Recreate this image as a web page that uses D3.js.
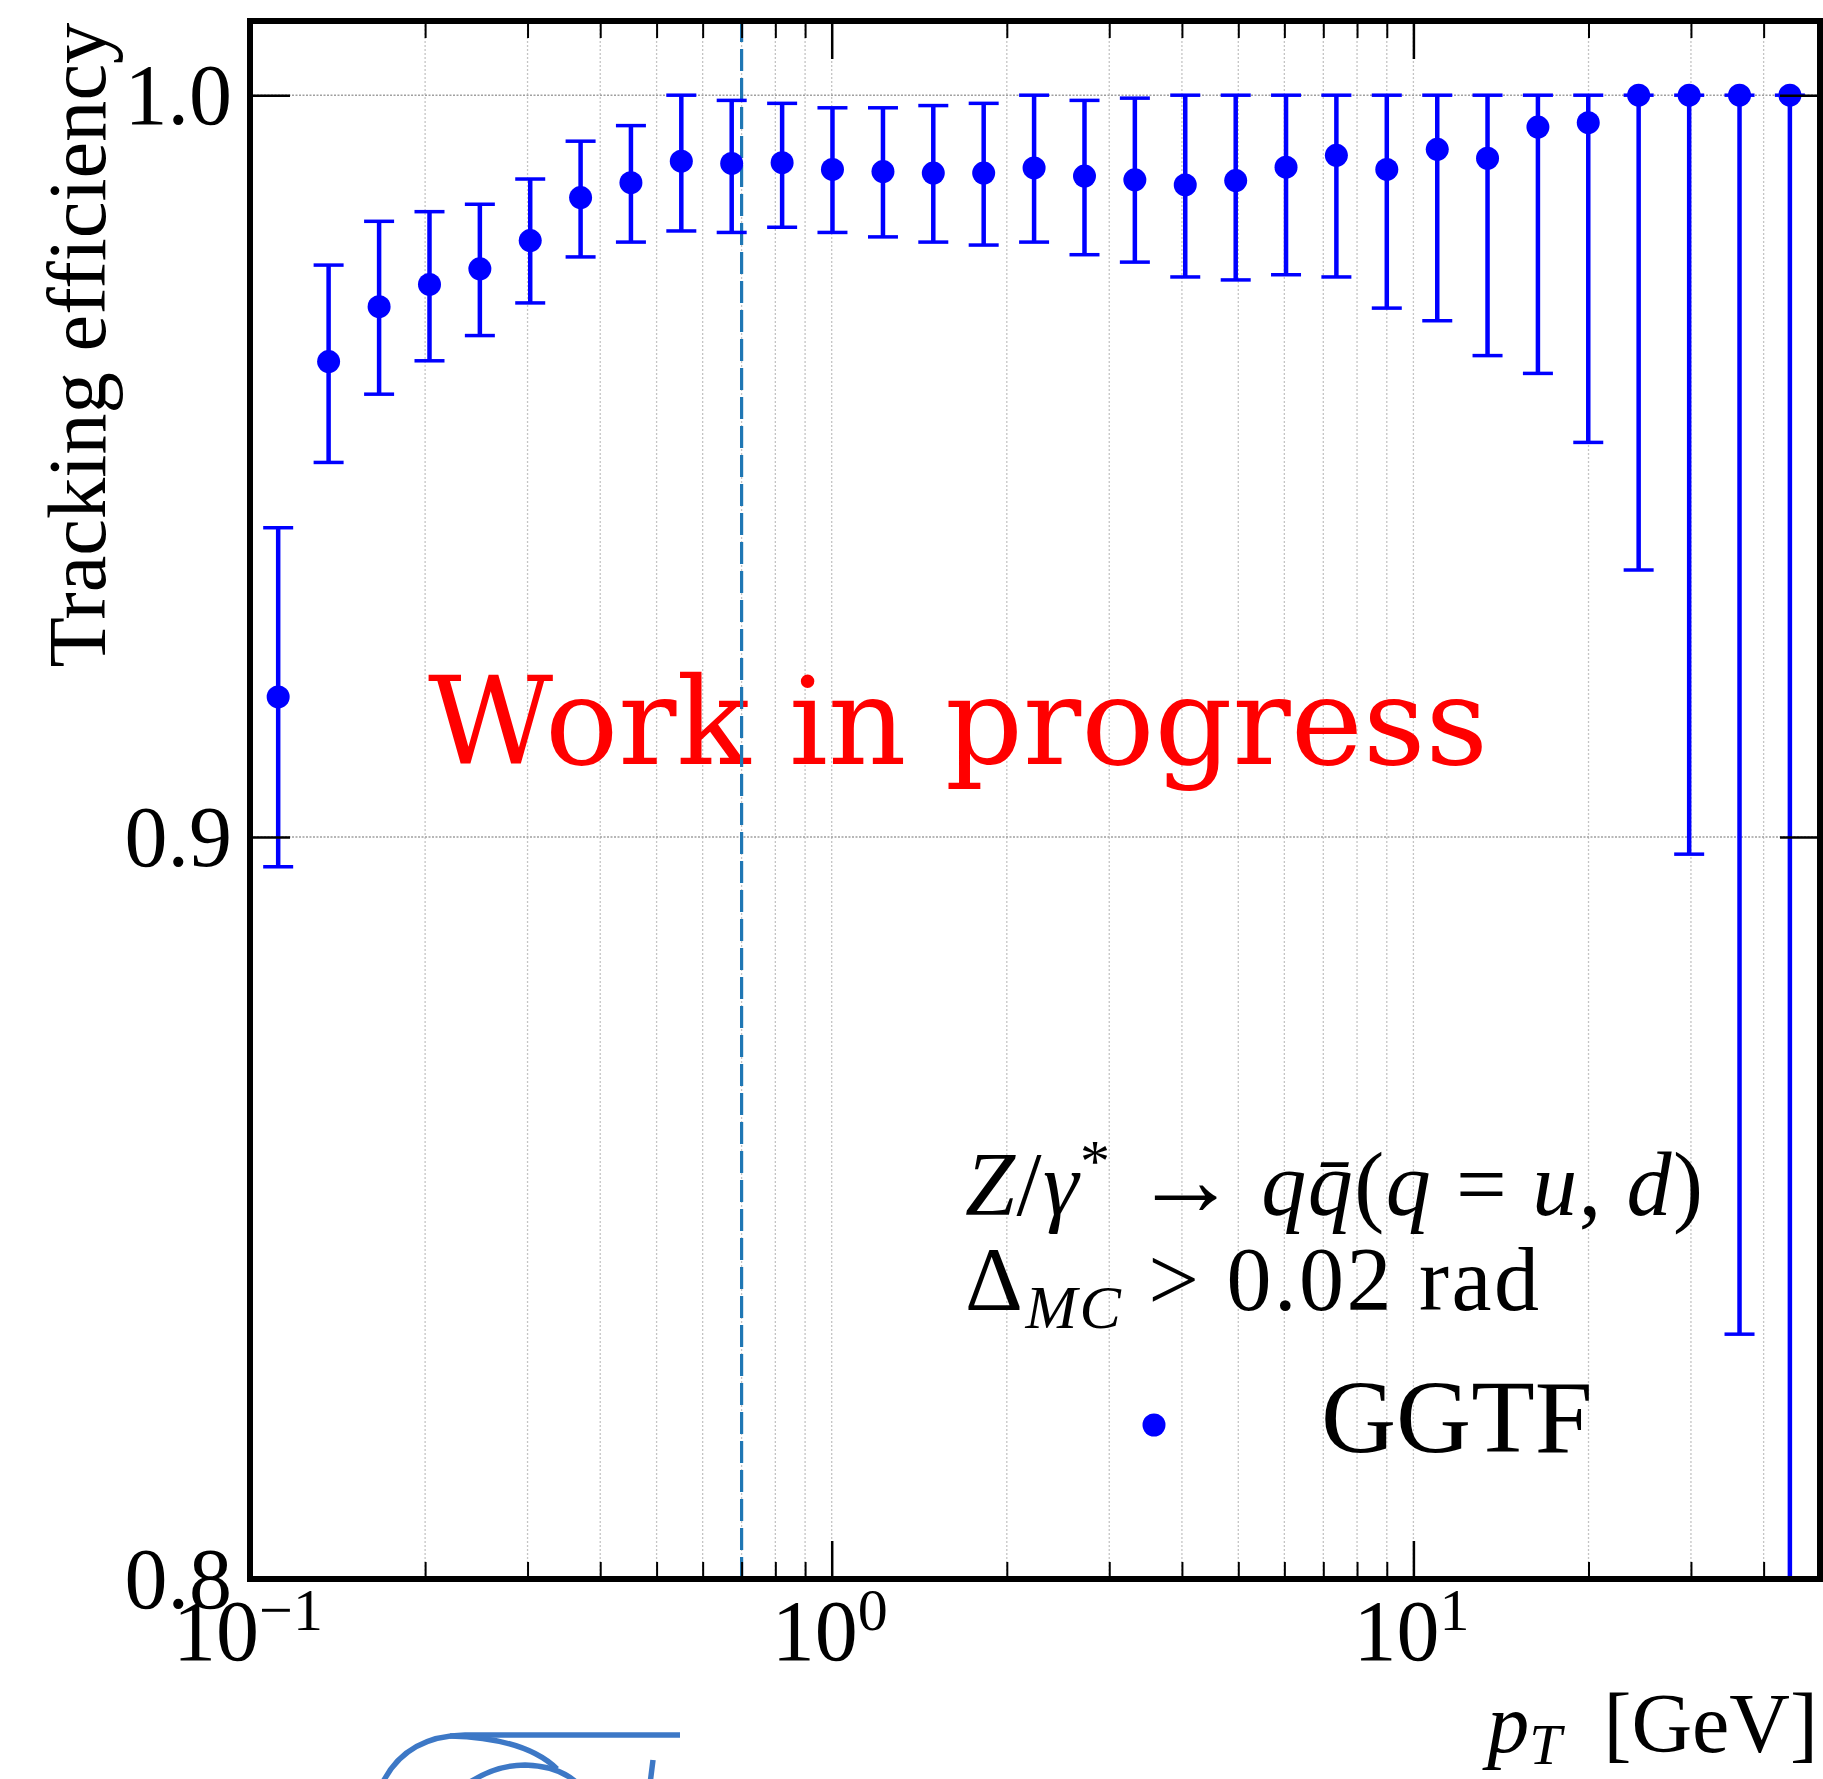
<!DOCTYPE html>
<html>
<head>
<meta charset="utf-8">
<script src="https://cdn.jsdelivr.net/npm/d3@7"></script>
<style>
  body { margin: 0; background: #fff; }
  svg { display: block; }
  text { font-family: "Liberation Serif", "DejaVu Serif", serif; fill: #000; }
</style>
</head>
<body>
<div id="chart"></div>
<script>
// bin centres in pT (GeV)
const pt = [0.1118, 0.1365, 0.1667, 0.2035, 0.2484, 0.3032, 0.3701, 0.4517, 0.5514, 0.6731,
  0.8218, 1.003, 1.225, 1.495, 1.825, 2.228, 2.720, 3.320, 4.053, 4.949,
  6.040, 7.372, 9.000, 10.99, 13.41, 16.37, 19.98, 24.39, 29.79, 36.36, 44.38];
// tracking efficiency per bin
const eff = [0.9189, 0.9641, 0.9715, 0.9745, 0.9766, 0.9804, 0.9862, 0.9882, 0.9911, 0.9908,
  0.9909, 0.9900, 0.9897, 0.9895, 0.9895, 0.9902, 0.9891, 0.9886, 0.9879, 0.9885,
  0.9903, 0.9919, 0.9900, 0.9927, 0.9915, 0.9957, 0.9963, 1.0, 1.0, 1.0, 1.0];
// error bar bounds
const effLow = [0.8960, 0.9505, 0.9597, 0.9642, 0.9676, 0.9720, 0.9782, 0.9802, 0.9817, 0.9815,
  0.9822, 0.9815, 0.9809, 0.9802, 0.9798, 0.9802, 0.9785, 0.9775, 0.9755, 0.9751,
  0.9758, 0.9755, 0.9713, 0.9696, 0.9649, 0.9625, 0.9532, 0.9360, 0.8977, 0.8330, 0.70];
const effHigh = [0.9417, 0.9771, 0.9830, 0.9843, 0.9853, 0.9887, 0.9938, 0.9959, 1.0, 0.9993,
  0.9989, 0.9983, 0.9983, 0.9986, 0.9989, 1.0, 0.9993, 0.9996, 1.0, 1.0,
  1.0, 1.0, 1.0, 1.0, 1.0, 1.0, 1.0, 1.0, 1.0, 1.0, 1.0];

const xMajor = [0.1, 1, 10];
const xExponents = ["\u22121", "0", "1"];
const xMinor = [0.2, 0.3, 0.4, 0.5, 0.6, 0.7, 0.8, 0.9, 2, 3, 4, 5, 6, 7, 8, 9, 20, 30, 40];
const yMajor = [0.8, 0.9, 1.0];
const yLabels = ["0.8", "0.9", "1.0"];
const cutLine = 0.7;

const W = 1823, H = 1779;
const margin = {top: 21, right: 3, bottom: 200, left: 250};
const x0 = margin.left, x1 = W - margin.right;
const y0 = H - margin.bottom, y1 = margin.top;

const svg = d3.select("#chart").append("svg")
  .attr("width", W).attr("height", H);

const x = d3.scaleLog().domain([0.1, 50]).range([x0, x1]);
const y = d3.scaleLinear().domain([0.8, 1.01]).range([y0, y1]);

svg.append("clipPath").attr("id", "plot-clip")
  .append("rect").attr("x", x0).attr("y", y1).attr("width", x1 - x0).attr("height", y0 - y1);

// grid
const grid = svg.append("g");
grid.selectAll(".xg").data(xMinor.concat(xMajor.slice(1))).enter().append("line")
  .attr("x1", d => x(d)).attr("x2", d => x(d))
  .attr("y1", y0).attr("y2", y1)
  .attr("stroke", "#c4c4c4").attr("stroke-width", 1.3).attr("stroke-dasharray", "2,2");
grid.selectAll(".yg").data(yMajor.slice(1)).enter().append("line")
  .attr("x1", x0).attr("x2", x1)
  .attr("y1", d => y(d)).attr("y2", d => y(d))
  .attr("stroke", "#a0a0a0").attr("stroke-width", 1.5).attr("stroke-dasharray", "2,1.5");

// "Work in progress"
const wip = svg.append("text")
  .attr("x", 428).attr("y", 764)
  .style("font-family", "'DejaVu Serif', serif")
  .style("font-size", "130px")
  .style("fill", "#ff0000")
  .text("Work in progress");
const wipLen = wip.node().getComputedTextLength();
wip.style("font-size", (130 * 1060 / wipLen) + "px");

// pT cut line
svg.append("line")
  .attr("x1", x(cutLine)).attr("x2", x(cutLine))
  .attr("y1", y0).attr("y2", y1)
  .attr("stroke", "#1f77b4").attr("stroke-width", 3.2)
  .attr("stroke-dasharray", "22,7");

// error bars and points
const pts = pt.map((d, i) => ({pt: d, eff: eff[i], lo: effLow[i], hi: effHigh[i]}));
const marks = svg.append("g").attr("clip-path", "url(#plot-clip)");
const blue = "#0000ff";
marks.selectAll(".bar").data(pts).enter().append("line")
  .attr("x1", d => x(d.pt)).attr("x2", d => x(d.pt))
  .attr("y1", d => y(d.lo)).attr("y2", d => y(d.hi))
  .attr("stroke", blue).attr("stroke-width", 4.5);
marks.selectAll(".capLo").data(pts).enter().append("line")
  .attr("x1", d => x(d.pt) - 15).attr("x2", d => x(d.pt) + 15)
  .attr("y1", d => y(d.lo)).attr("y2", d => y(d.lo))
  .attr("stroke", blue).attr("stroke-width", 3.5);
marks.selectAll(".capHi").data(pts).enter().append("line")
  .attr("x1", d => x(d.pt) - 15).attr("x2", d => x(d.pt) + 15)
  .attr("y1", d => y(d.hi)).attr("y2", d => y(d.hi))
  .attr("stroke", blue).attr("stroke-width", 3.5);
marks.selectAll(".dot").data(pts).enter().append("circle")
  .attr("cx", d => x(d.pt)).attr("cy", d => y(d.eff))
  .attr("r", 11.5).attr("fill", blue);

// ticks (inward, on all four sides)
const tickStyle = (g, w) => {
  g.select(".domain").remove();
  g.selectAll(".tick line").attr("stroke", "#000").attr("stroke-width", w);
  g.selectAll(".tick text").remove();
};
svg.append("g").attr("transform", `translate(0,${y0})`)
  .call(d3.axisBottom(x).tickValues(xMajor).tickSize(-38).tickFormat(""))
  .call(g => tickStyle(g, 2.5));
svg.append("g").attr("transform", `translate(0,${y0})`)
  .call(d3.axisBottom(x).tickValues(xMinor).tickSize(-17).tickFormat(""))
  .call(g => tickStyle(g, 2));
svg.append("g").attr("transform", `translate(0,${y1})`)
  .call(d3.axisTop(x).tickValues(xMajor).tickSize(-38).tickFormat(""))
  .call(g => tickStyle(g, 2.5));
svg.append("g").attr("transform", `translate(0,${y1})`)
  .call(d3.axisTop(x).tickValues(xMinor).tickSize(-17).tickFormat(""))
  .call(g => tickStyle(g, 2));
svg.append("g").attr("transform", `translate(${x0},0)`)
  .call(d3.axisLeft(y).tickValues(yMajor).tickSize(-40).tickFormat(""))
  .call(g => tickStyle(g, 2.5));
svg.append("g").attr("transform", `translate(${x1},0)`)
  .call(d3.axisRight(y).tickValues(yMajor).tickSize(-40).tickFormat(""))
  .call(g => tickStyle(g, 2.5));

// frame
svg.append("rect")
  .attr("x", x0).attr("y", y1).attr("width", x1 - x0).attr("height", y0 - y1)
  .attr("fill", "none").attr("stroke", "#000").attr("stroke-width", 6);

// y tick labels
svg.selectAll(".ylab").data(yMajor).enter().append("text")
  .attr("x", x0 - 18).attr("y", d => y(d) + 29)
  .attr("text-anchor", "end")
  .style("font-size", "86px")
  .text((d, i) => yLabels[i]);

// x tick labels 10^n
xMajor.forEach((v, i) => {
  const t = svg.append("text")
    .attr("y", y0 + 81)
    .style("font-size", "86px");
  t.append("tspan").text("10");
  t.append("tspan").attr("dy", -30).style("font-size", "60px").text(xExponents[i]);
  const w = t.node().getComputedTextLength();
  t.attr("x", x(v) - w / 2 - 2);
});

// axis titles
const yTitle = svg.append("text")
  .attr("transform", "translate(105,345) rotate(-90)")
  .attr("text-anchor", "middle")
  .style("font-size", "92px")
  .text("Tracking efficiency");
const yLen = yTitle.node().getComputedTextLength();
yTitle.style("font-size", (92 * 645 / yLen) + "px");

const xTitle = svg.append("text")
  .attr("x", 1818).attr("y", 1752)
  .attr("text-anchor", "end")
  .style("font-size", "84px");
xTitle.append("tspan").style("font-style", "italic").text("p");
xTitle.append("tspan").attr("dy", 12).style("font-style", "italic").style("font-size", "58px").text("T");
xTitle.append("tspan").attr("dy", -12).text("\u2002[GeV]");

// legend block
const l1 = svg.append("text").attr("x", 965).attr("y", 1215).style("font-size", "90px");
l1.append("tspan").style("font-style", "italic").text("Z");
l1.append("tspan").text("/");
l1.append("tspan").style("font-style", "italic").text("\u03b3");
l1.append("tspan").attr("dy", -34).style("font-size", "60px").text("*");
l1.append("tspan").attr("dy", 34).style("font-size", "104px").text("\u2009\u2192\u2009");
l1.append("tspan").style("font-style", "italic").text("q\u0071\u0304");
l1.append("tspan").text("(");
l1.append("tspan").style("font-style", "italic").text("q");
l1.append("tspan").text(" = ");
l1.append("tspan").style("font-style", "italic").text("u");
l1.append("tspan").text(", ");
l1.append("tspan").style("font-style", "italic").text("d");
l1.append("tspan").text(")");
l1.attr("textLength", 738).attr("lengthAdjust", "spacing");

const l2 = svg.append("text").attr("x", 965).attr("y", 1310).style("font-size", "90px");
l2.append("tspan").text("\u0394");
l2.append("tspan").attr("dy", 18).style("font-style", "italic").style("font-size", "62px").text("MC");
l2.append("tspan").attr("dy", -18).text(" > 0.02 rad");
l2.attr("textLength", 574).attr("lengthAdjust", "spacing");

svg.append("circle").attr("cx", 1154).attr("cy", 1425).attr("r", 11.5).attr("fill", blue);
svg.append("text").attr("x", 1321).attr("y", 1452).style("font-size", "104px").text("GGTF");

// partial logo at the bottom edge
const logo = svg.append("g").attr("fill", "none").attr("stroke", "#3d78c6").attr("stroke-width", 5.5);
logo.append("path").attr("d", "M382,1784 Q405,1736 465,1735 L680,1735");
logo.append("path").attr("d", "M450,1736 Q525,1738 557,1769");
logo.append("path").attr("d", "M467,1784 Q495,1765 525,1765 Q560,1766 578,1784");
logo.append("path").attr("d", "M653,1760 L650,1784");
</script>
</body>
</html>
